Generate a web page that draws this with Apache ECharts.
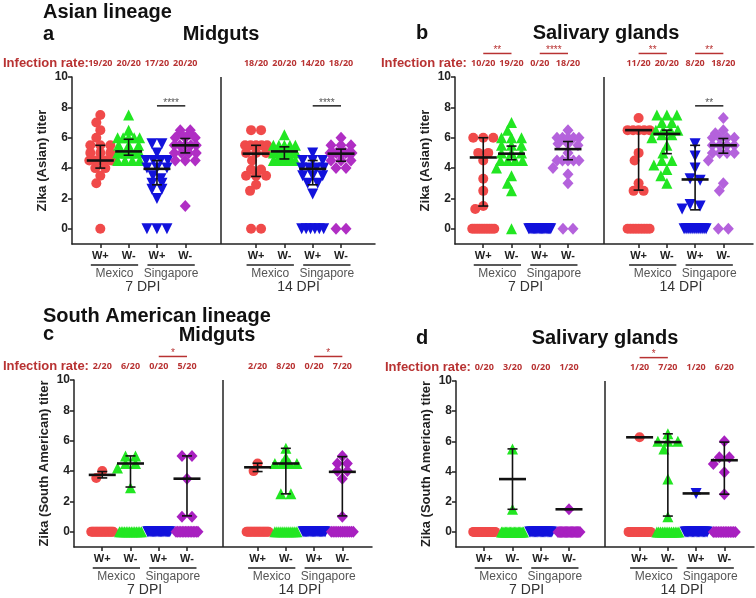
<!DOCTYPE html>
<html><head><meta charset="utf-8">
<script src="https://cdn.jsdelivr.net/npm/echarts@6/dist/echarts.min.js"></script>
<style>html,body{margin:0;padding:0;background:#fff}#c{width:756px;height:598px}</style>
</head><body><div id="c"></div>
<script>
// ---------- categories / labels ----------
const groupLabels = ['W+','W-','W+','W-','W+','W-','W+','W-'];
const strainLabels = ['Mexico','Singapore','Mexico','Singapore'];
const dpiLabels = ['7 DPI','14 DPI'];
const yTicks = [0,2,4,6,8,10];

// ---------- values: [Mexico W+, Mexico W-, Singapore W+, Singapore W-] ----------
const asianMid7 = [
  [7.5,7.0,6.5,6.0,5.5,5.5,5.5,5.0,5.0,5.0,4.5,4.5,4.5,4.5,4.5,4.0,4.0,3.5,3.0,0],
  [7.5,6.5,6.0,6.0,6.0,6.0,6.0,5.5,5.5,5.5,5.0,5.0,5.0,5.0,5.0,5.0,4.5,4.5,4.5,4.5],
  [5.6,5.6,5.0,4.5,4.5,4.5,4.5,4.0,4.0,4.0,3.5,3.3,3.0,3.0,2.6,2.6,2.0,0,0,0],
  [6.5,6.5,6.3,6.3,6.0,6.0,5.5,5.5,5.5,5.5,5.5,5.0,5.0,5.0,5.0,4.5,4.5,4.5,6.0,1.5]
];
const asianMid14 = [
  [6.5,6.5,5.5,5.5,5.5,5.5,5.5,5.0,5.0,4.5,3.9,3.9,3.5,3.5,3.5,2.9,2.5,5.0,0,0],
  [6.2,5.5,5.5,5.5,5.5,5.5,5.2,5.2,5.2,5.0,5.0,5.0,5.0,4.8,4.8,4.5,4.5,4.5,4.5,4.5],
  [5.0,4.5,4.5,4.5,4.0,4.0,4.0,4.0,3.5,3.5,3.5,3.0,3.0,2.3,0,0,0,0,0,0],
  [6.0,5.5,5.5,5.5,5.2,5.0,5.0,5.0,5.0,5.0,5.0,5.0,5.0,4.5,4.5,4.5,4.0,4.0,0,0]
];
const asianSal7 = [
  [6.0,6.0,6.0,5.0,5.0,4.5,3.3,2.5,1.5,1.3,0,0,0,0,0,0,0,0,0,0],
  [7.0,6.5,6.0,6.0,6.0,5.5,5.5,5.5,5.0,5.0,5.0,4.5,4.5,4.5,4.5,4.0,3.5,3.0,2.5,0],
  [0,0,0,0,0,0,0,0,0,0,0,0,0,0,0,0,0,0,0,0],
  [6.5,6.0,6.0,6.0,6.0,6.0,5.6,5.6,5.5,5.0,4.5,4.5,4.5,4.5,4.5,4.0,3.6,3.0,0,0]
];
const asianSal14 = [
  [7.3,6.5,6.5,6.5,6.5,6.5,5.0,4.5,3.0,2.5,2.5,0,0,0,0,0,0,0,0,0],
  [7.5,7.5,7.5,7.0,7.0,6.5,6.5,6.5,6.5,6.2,6.2,6.0,5.5,5.0,4.5,4.5,4.2,3.9,3.5,3.0],
  [5.6,4.8,4.0,3.3,3.2,1.6,1.5,1.3,0,0,0,0,0,0,0,0,0,0,0,0],
  [7.3,6.5,6.3,6.0,6.0,6.0,6.0,5.5,5.5,5.5,5.5,5.0,5.0,5.0,5.0,4.5,3.0,2.5,0,0]
];
const saMid7 = [
  [4.0,3.55,0,0,0,0,0,0,0,0,0,0,0,0,0,0,0,0,0,0],
  [5.0,5.0,4.5,4.5,4.2,2.9,0,0,0,0,0,0,0,0,0,0,0,0,0,0],
  [0,0,0,0,0,0,0,0,0,0,0,0,0,0,0,0,0,0,0,0],
  [5.0,5.0,3.5,1.0,1.0,0,0,0,0,0,0,0,0,0,0,0,0,0,0,0]
];
const saMid14 = [
  [4.5,4.0,0,0,0,0,0,0,0,0,0,0,0,0,0,0,0,0,0,0],
  [5.5,4.9,4.5,4.5,4.5,4.5,2.5,2.5,0,0,0,0,0,0,0,0,0,0,0,0],
  [0,0,0,0,0,0,0,0,0,0,0,0,0,0,0,0,0,0,0,0],
  [5.0,4.5,4.5,4.0,4.0,3.5,1.0,0,0,0,0,0,0,0,0,0,0,0,0,0]
];
const saSal7 = [
  [0,0,0,0,0,0,0,0,0,0,0,0,0,0,0,0,0,0,0,0],
  [5.5,1.5,0,0,0,0,0,0,0,0,0,0,0,0,0,0,0,0,0,0],
  [0,0,0,0,0,0,0,0,0,0,0,0,0,0,0,0,0,0,0,0],
  [1.5,0,0,0,0,0,0,0,0,0,0,0,0,0,0,0,0,0,0,0]
];
const saSal14 = [
  [6.27,0,0,0,0,0,0,0,0,0,0,0,0,0,0,0,0,0,0,0],
  [6.5,6.0,6.0,6.0,5.5,3.5,1.0,0,0,0,0,0,0,0,0,0,0,0,0,0],
  [2.55,0,0,0,0,0,0,0,0,0,0,0,0,0,0,0,0,0,0,0],
  [6.0,4.95,4.95,4.5,3.95,2.5,0,0,0,0,0,0,0,0,0,0,0,0,0,0]
];

// median, lower quartile, upper quartile (infected only)
const asianMidStats7 = [[4.5,4.0,5.5],[5.1,4.85,5.9],[3.95,2.9,4.5],[5.5,5.0,5.95]];
const asianMidStats14 = [[4.95,3.45,5.5],[5.1,4.6,5.4],[3.95,2.9,4.5],[4.95,4.45,5.25]];
const asianSalStats7 = [[4.7,1.5,6.0],[4.95,4.55,5.45],null,[5.25,4.55,5.75]];
const asianSalStats14 = [[6.5,2.55,6.5],[6.25,4.95,6.5],[3.25,1.25,5.5],[5.5,4.98,5.95]];
const saMidStats7 = [[3.75,3.55,3.97],[4.5,2.95,5.0],null,[3.5,1.05,5.0]];
const saMidStats14 = [[4.25,3.97,4.52],[4.5,2.5,5.5],null,[3.95,1.05,4.95]];
const saSalStats7 = [null,[3.5,1.5,5.5],null,[1.5,1.5,1.5]];
const saSalStats14 = [[6.27,6.27,6.27],[5.95,1.05,6.5],[2.55,2.55,2.55],[4.75,2.5,5.95]];

// infection rates
const rateA = ['19/20','20/20','17/20','20/20','18/20','20/20','14/20','18/20'];
const rateB = ['10/20','19/20','0/20','18/20','11/20','20/20','8/20','18/20'];
const rateC = ['2/20','6/20','0/20','5/20','2/20','8/20','0/20','7/20'];
const rateD = ['0/20','3/20','0/20','1/20','1/20','7/20','1/20','6/20'];

// significance: [fromGroup, toGroup, stars, level]
const sigA = [[2,3,'****',8.1],[6,7,'****',8.1]];
const sigB = [[0,1,'**','top'],[2,3,'****','top'],[4,5,'**','top'],[6,7,'**','top'],[6,7,'**',8.1]];
const sigC = [[2,3,'*','top'],[6,7,'*','top']];
const sigD = [[4,5,'*','top']];

// ---------- layout ----------
const FONT = '"Liberation Sans", Arial, sans-serif';
const RED_TXT = '#b83232';
const POS = [1,2,3,4,6.5,7.5,8.5,9.5];
const DIVIDER = 5.25;
const TOP_LEVEL = 11.55, RATE_LEVEL = 10.9;
const colors = ['#f04a4a','#22e622','#1212dc'];
const symbols = ['circle','triangle','triangle','diamond'];
const symSize = [10,11,11,[11,12]];
const symRot = [0,0,180,0];

const panels = [
  {left:72, top:77, width:303, height:167, xMax:10.7, yName:'Zika (Asian) titer', d7:asianMid7, d14:asianMid14, s7:asianMidStats7, s14:asianMidStats14, rates:rateA, sig:sigA, purple:'#b02ec4',
   letter:'a', letterXY:[43,34], title:'Midguts', titleXY:[221,34], irX:3},
  {left:455, top:77, width:298, height:167, xMax:10.55, yName:'Zika (Asian) titer', d7:asianSal7, d14:asianSal14, s7:asianSalStats7, s14:asianSalStats14, rates:rateB, sig:sigB, purple:'#b462dc',
   letter:'b', letterXY:[416,33], title:'Salivary glands', titleXY:[606,33], irX:381},
  {left:74, top:380, width:298, height:167, xMax:10.55, yName:'Zika (South American) titer', d7:saMid7, d14:saMid14, s7:saMidStats7, s14:saMidStats14, rates:rateC, sig:sigC, purple:'#a820c0',
   letter:'c', letterXY:[43,334], title:'Midguts', titleXY:[217,335], irX:3},
  {left:456, top:381, width:298, height:166, xMax:10.55, yName:'Zika (South American) titer', d7:saSal7, d14:saSal14, s7:saSalStats7, s14:saSalStats14, rates:rateD, sig:sigD, purple:'#a820c0',
   letter:'d', letterXY:[416,338], title:'Salivary glands', titleXY:[605,338], irX:385}
];

// beeswarm-like horizontal spreading (GraphPad scatter dot plot style)
function swarm(vals, cx, pxX, pxY) {
  const sorted = vals.slice().sort((a,b)=>b-a);
  const clusters = [];
  sorted.forEach(v => {
    const last = clusters[clusters.length-1];
    if (last && Math.abs(last[0]-v) < 0.12) last.push(v); else clusters.push([v]);
  });
  const placed = [], out = [];
  clusters.forEach(cl => {
    const n = cl.length;
    if (n > 1) {
      const sp = Math.min(10, 22/(n-1));
      cl.forEach((v,i) => { const dx = (i-(n-1)/2)*sp; placed.push({x:dx,y:v*pxY}); out.push([cx+dx/pxX, v]); });
    } else {
      const v = cl[0], y = v*pxY; let best = 0, found = false;
      for (let k=0;k<=15 && !found;k++) {
        for (const dx of (k===0?[0]:[-k,k])) {
          if (placed.every(p => Math.hypot(p.x-dx, p.y-y) >= 8.5)) { best = dx; found = true; break; }
        }
      }
      placed.push({x:best,y}); out.push([cx+best/pxX, v]);
    }
  });
  return out;
}

const grids = [], xAxes = [], yAxes = [], series = [];
panels.forEach((p, gi) => {
  grids.push({left:p.left, top:p.top, width:p.width, height:p.height});
  xAxes.push({gridIndex:gi, type:'value', min:0, max:p.xMax,
    axisLine:{show:true, onZero:false, lineStyle:{color:'#222', width:1.5}},
    axisTick:{show:true, length:4, customValues:POS, lineStyle:{color:'#222', width:1.5}},
    axisLabel:{show:false}, splitLine:{show:false}});
  yAxes.push({gridIndex:gi, type:'value', min:-1, max:10,
    axisLine:{show:true, onZero:false, lineStyle:{color:'#222', width:1.5}},
    axisTick:{show:true, length:4, customValues:yTicks, lineStyle:{color:'#222', width:1.5}},
    axisLabel:{customValues:yTicks, fontWeight:'bold', fontSize:12, color:'#222', margin:4, fontFamily:FONT},
    splitLine:{show:false},
    name:p.yName, nameLocation:'middle', nameGap:23,
    nameTextStyle:{fontWeight:'bold', fontSize:13, color:'#222', fontFamily:FONT}});
  const pxX = p.width / p.xMax, pxY = p.height / 11;
  const cols = [colors[0], colors[1], colors[2], p.purple];
  for (let c=0;c<4;c++) {
    const data = swarm(p.d7[c], POS[c], pxX, pxY).concat(swarm(p.d14[c], POS[4+c], pxX, pxY));
    const s = {type:'scatter', xAxisIndex:gi, yAxisIndex:gi, data, symbol:symbols[c], symbolSize:symSize[c], symbolRotate:symRot[c],
      itemStyle:{color:cols[c], opacity:1}, z:2, silent:true, animation:false};
    if (c===0) s.markLine = {symbol:'none', silent:true, animation:false, label:{show:false},
      lineStyle:{color:'#222', type:'solid', width:1.5}, data:[{xAxis:DIVIDER}]};
    series.push(s);
  }
  const stats = [];
  for (let c=0;c<4;c++) {
    if (p.s7[c]) stats.push([POS[c]].concat(p.s7[c]));
    if (p.s14[c]) stats.push([POS[4+c]].concat(p.s14[c]));
  }
  series.push({type:'custom', xAxisIndex:gi, yAxisIndex:gi, data:stats, z:5, silent:true, animation:false,
    renderItem:(params, api) => {
      const x = api.value(0);
      const m = api.coord([x, api.value(1)]);
      const lo = api.coord([x, api.value(2)]);
      const hi = api.coord([x, api.value(3)]);
      const st = {stroke:'#111', lineWidth:1.6};
      return {type:'group', children:[
        {type:'line', shape:{x1:hi[0], y1:hi[1], x2:lo[0], y2:lo[1]}, style:st},
        {type:'line', shape:{x1:hi[0]-5, y1:hi[1], x2:hi[0]+5, y2:hi[1]}, style:st},
        {type:'line', shape:{x1:lo[0]-5, y1:lo[1], x2:lo[0]+5, y2:lo[1]}, style:st},
        {type:'line', shape:{x1:m[0]-13.5, y1:m[1], x2:m[0]+13.5, y2:m[1]}, style:{stroke:'#111', lineWidth:2.6}}
      ]};
    }});
});

const chart = echarts.init(document.getElementById('c'), null, {renderer:'canvas'});
chart.setOption({animation:false, backgroundColor:'#fff', grid:grids, xAxis:xAxes, yAxis:yAxes, series});

// ---------- annotation layer positioned through the axes ----------
function txt(x, y, text, font, fill, align, valign) {
  return {type:'text', x, y, silent:true, style:{text, font, fill, textAlign:align||'left', textVerticalAlign:valign||'middle', align:align||'left', verticalAlign:valign||'middle'}};
}
function ln(x1, y1, x2, y2, stroke, w) {
  return {type:'line', silent:true, shape:{x1,y1,x2,y2}, style:{stroke, lineWidth:w||1.5}};
}
const g = [];
g.push(txt(43, 12, 'Asian lineage', 'bold 20px ' + FONT, '#111'));
g.push(txt(43, 316, 'South American lineage', 'bold 20px ' + FONT, '#111'));
panels.forEach((p, gi) => {
  const P = (x, y) => chart.convertToPixel({gridIndex:gi}, [x, y]);
  g.push(txt(p.letterXY[0], p.letterXY[1], p.letter, 'bold 20px ' + FONT, '#111'));
  g.push(txt(p.titleXY[0], p.titleXY[1], p.title, 'bold 20px ' + FONT, '#111', 'center'));
  const rY = P(0, RATE_LEVEL)[1];
  g.push(txt(p.irX, rY, 'Infection rate:', 'bold 13px ' + FONT, RED_TXT));
  const bottom = p.top + p.height;
  POS.forEach((x, i) => {
    const px = P(x, 0)[0];
    g.push(txt(px, rY, p.rates[i], 'bold 9px "Open Sans", ' + FONT, RED_TXT, 'center'));
    g.push(txt(px, bottom + 12, groupLabels[i], 'bold 11px ' + FONT, '#222', 'center'));
  });
  for (let k=0;k<4;k++) {
    const a = P(POS[2*k], 0)[0], b = P(POS[2*k+1], 0)[0];
    g.push(ln(a - 9.5, bottom + 21, b + 9.5, bottom + 21, '#222', 1.4));
    g.push(txt((a+b)/2, bottom + 30, strainLabels[k], '12px ' + FONT, '#555', 'center'));
  }
  for (let k=0;k<2;k++) {
    const a = P(POS[4*k], 0)[0], b = P(POS[4*k+3], 0)[0];
    g.push(txt((a+b)/2, bottom + 43, dpiLabels[k], '14px ' + FONT, '#333', 'center'));
  }
  p.sig.forEach(s => {
    const top = s[3] === 'top';
    const lvl = top ? TOP_LEVEL : s[3];
    const a = P(POS[s[0]], lvl), b = P(POS[s[1]], lvl);
    const col = top ? RED_TXT : '#222';
    g.push(ln(a[0], a[1], b[0], b[1], col, 1.5));
    g.push(txt((a[0]+b[0])/2, a[1] + 2, s[2], '10px ' + FONT, top ? RED_TXT : '#555', 'center', 'bottom'));
  });
});
chart.setOption({graphic:{elements:g}});
</script>
</body></html>
